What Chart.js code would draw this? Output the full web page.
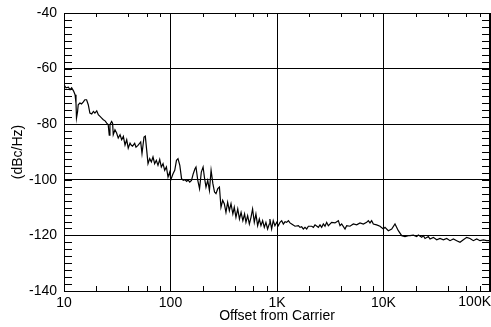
<!DOCTYPE html>
<html>
<head>
<meta charset="utf-8">
<script src="https://cdn.jsdelivr.net/npm/chart.js@4/dist/chart.umd.min.js"></script>
<style>
  body { margin: 0; background: #fff; }
  #wrap { width: 491px; height: 327px; }
</style>
</head>
<body>
<div id="wrap"><canvas id="pn" width="491" height="327"></canvas></div>
<script>
// offset frequency (Hz) and measured phase noise (dBc/Hz)
var freqHz = [
  10, 10.44, 11.0, 11.4, 11.8, 12.3, 12.7, 12.96, 13.1, 13.4, 13.6, 14.1, 14.6, 15.2, 15.7, 16.3, 16.9,
  17.5, 18.2, 18.9, 19.5, 20.3, 21.0, 21.8, 22.6, 23.4, 24.3, 25.2, 26.0, 26.6, 27.0, 28.0, 28.6, 29.0,
  30.1, 31.2, 32.3, 33.6, 34.8, 36.1, 37.4, 38.8, 40.1, 41.7, 42.9, 44.0, 46.1, 47.4, 49.5, 52.5, 54.0,
  56.4, 58.0, 59.8, 61.5, 63.8, 66.1, 68.5, 71.0, 73.6, 76.3, 79.2, 82.0, 85.1, 88.2, 91.5, 94.8, 98.4,
  100.7, 103.3, 105.6, 109.6, 113.8, 117.6, 122.3, 127.0, 131.8, 136.9, 141.9, 146.0, 151.6, 157.4,
  163.6, 169.8, 173.5, 180.4, 187.4, 194.7, 202.3, 208, 215.4, 223.7, 232, 240.5, 250, 259, 267.3, 278,
  288, 297.8, 309, 320, 331.7, 344, 357, 370, 385, 397, 411.7, 428, 444, 460, 478, 496, 511, 530, 550,
  570, 590, 612, 634, 658, 682, 707, 733, 760, 787, 816, 846, 858, 890, 922, 956, 994,
  1030, 1067, 1107, 1147, 1189, 1233, 1279, 1324, 1373, 1476, 1588, 1644, 1705, 1768, 1832, 1900, 1970,
  2118, 2195, 2274, 2445, 2534, 2627, 2724, 2823, 2927, 3034, 3259, 3504, 3766, 3904, 4047, 4350, 4510,
  4846, 5208, 5600, 6016, 6468, 6950, 7200, 7468, 7740, 8025, 8625, 9270, 9960,
  10330, 11100, 11940, 12820, 13780, 14820, 15920, 17120, 17740, 19070, 20500, 21240, 22840, 23680,
  24540, 26380, 27340, 29390, 31600, 33940, 36490, 39230, 42120, 45300, 48690, 52290, 56220, 60450,
  64910, 69790, 75010, 80580, 86640, 93150, 100000
];
var noiseDb = [
  -65.8, -66.9, -66.7, -67.6, -66.9, -68.1, -69.4, -72.4, -77.8, -75.6, -73.0, -72.4, -72.7, -72.0, -71.2, -71.2, -73.0,
  -76.0, -76.3, -75.4, -76.0, -75.2, -76.6, -77.2, -77.8, -78.4, -78.8, -79.6, -80.2, -83.9, -80.2, -79.0, -79.6, -83.8,
  -82.0, -83.2, -85.0, -83.8, -85.6, -84.4, -87.5, -85.6, -88.6, -86.8, -87.6, -87.9, -86.9, -88.3, -87.6, -86.4, -90.6,
  -84.6, -84.3, -89.4, -94.2, -92.4, -93.6, -91.8, -94.2, -93.0, -94.8, -92.7, -95.4, -94.2, -96.6, -95.4, -99.0, -97.2,
  -100.0, -98.8, -97.8, -96.6, -93.0, -92.4, -94.8, -99.6, -100.2, -100.0, -100.6, -100.0, -100.8, -100.2,
  -97.8, -96.0, -95.4, -100.2, -103.2, -97.2, -95.4, -99.0, -102.6, -100.2, -103.8, -96.6, -101.4, -104.4, -105.0, -103.2,
  -102.6, -109.9, -107.4, -108.6, -111.7, -108.1, -111.1, -108.6, -112.3, -109.9, -113.5, -110.5, -114.1, -111.7, -114.7, -112.3, -115.3, -112.9, -115.9,
  -113.5, -110.5, -115.3, -112.3, -116.5, -114.1, -116.5, -114.7, -117.1, -115.3, -117.7, -115.9, -114.1, -117.7, -114.7, -116.5, -115.3,
  -116.5, -115.3, -114.7, -115.9, -115.1, -115.3, -114.7, -115.5, -115.9, -116.7, -116.5, -117.1, -116.9, -117.7, -117.1, -117.7, -116.7,
  -116.7, -117.1, -116.2, -117.1, -116.2, -117.1, -115.9, -116.7, -115.3, -116.5, -115.3, -115.5, -114.7, -116.5, -115.9, -117.7, -116.5,
  -116.7, -115.9, -116.2, -115.5, -115.9, -115.3, -114.7, -115.5, -114.7, -115.9, -116.2, -116.7, -117.7,
  -117.1, -118.3, -117.7, -115.9, -118.3, -120.1, -120.4, -120.1, -120.1, -119.9, -120.4, -119.9, -120.7, -120.1,
  -121.1, -120.4, -121.3, -120.7, -121.6, -121.1, -121.6, -121.1, -121.9, -121.3, -121.9, -122.5, -121.6, -120.7,
  -121.1, -121.9, -121.3, -121.9, -121.6, -121.9, -121.9
];

var xDecades = [10, 100, 1000, 10000, 100000];
var xTickLabels = ['10', '100', '1K', '10K', '100K'];
var xMinorSteps = [2, 4, 6, 8];
var yMin = -140, yMax = -40, yStep = 20, yMinorStep = 2.5;

var fontFamily = "'Liberation Sans', Arial, sans-serif";

var points = freqHz.map(function (f, i) { return { x: f, y: noiseDb[i] }; });

// inner ticks on all four sides, closed frame, right-aligned last x label
var frameTicks = {
  id: 'frameTicks',
  afterDraw: function (chart) {
    var ctx = chart.ctx, a = chart.chartArea;
    var xs = chart.scales.x, ys = chart.scales.y;
    ctx.save();
    ctx.strokeStyle = '#000';
    ctx.lineWidth = 1;
    ctx.beginPath();
    for (var v = yMin; v <= yMax; v += yMinorStep) {
      var py = Math.round(ys.getPixelForValue(v)) + 0.5;
      ctx.moveTo(a.left, py); ctx.lineTo(a.left + 8, py);
      ctx.moveTo(a.right, py); ctx.lineTo(a.right - 8, py);
    }
    xDecades.slice(0, -1).forEach(function (d) {
      xMinorSteps.forEach(function (m) {
        var px = Math.round(xs.getPixelForValue(d * m)) + 0.5;
        ctx.moveTo(px, a.top); ctx.lineTo(px, a.top + 4);
        ctx.moveTo(px, a.bottom); ctx.lineTo(px, a.bottom - 5);
      });
    });
    ctx.stroke();
    ctx.strokeRect(Math.round(a.left) + 0.5, Math.round(a.top) + 0.5,
                   Math.round(a.right - a.left) - 1, Math.round(a.bottom - a.top));
    ctx.fillStyle = '#000';
    ctx.font = '14px ' + fontFamily;
    ctx.textAlign = 'right';
    ctx.textBaseline = 'top';
    ctx.fillText(xTickLabels[xTickLabels.length - 1], chart.width, a.bottom + 4);
    ctx.restore();
  }
};

new Chart(document.getElementById('pn'), {
  type: 'line',
  data: {
    datasets: [{
      data: points,
      borderColor: '#000',
      borderWidth: 1.2,
      pointRadius: 0,
      tension: 0,
      fill: false
    }]
  },
  options: {
    responsive: false,
    animation: false,
    events: [],
    layout: { padding: { top: 13, right: 1, left: 0, bottom: 0 } },
    plugins: { legend: { display: false }, tooltip: { enabled: false } },
    scales: {
      x: {
        type: 'logarithmic',
        min: 10,
        max: 100000,
        afterBuildTicks: function (scale) {
          scale.ticks = xDecades.map(function (v) { return { value: v }; });
        },
        afterFit: function (scale) {
          scale.height = 36;
          scale.paddingLeft = 0;
          scale.paddingRight = 0;
        },
        grid: { color: '#000', lineWidth: 1, drawTicks: false },
        border: { color: '#000', width: 1 },
        ticks: {
          color: '#000',
          padding: 4,
          maxRotation: 0,
          autoSkip: false,
          font: { family: fontFamily, size: 14 },
          callback: function (v) {
            var i = xDecades.indexOf(v);
            return i < xDecades.length - 1 ? xTickLabels[i] : '';
          }
        },
        title: {
          display: true,
          text: 'Offset from Carrier',
          color: '#000',
          font: { family: fontFamily, size: 14 },
          padding: { top: 0, bottom: 2 }
        }
      },
      y: {
        min: yMin,
        max: yMax,
        afterFit: function (scale) {
          scale.width = 64;
          scale.paddingTop = 0;
          scale.paddingBottom = 0;
        },
        grid: { color: '#000', lineWidth: 1, drawTicks: false },
        border: { color: '#000', width: 1 },
        ticks: {
          stepSize: yStep,
          color: '#000',
          padding: 7,
          font: { family: fontFamily, size: 14 }
        },
        title: {
          display: true,
          text: '(dBc/Hz)',
          color: '#000',
          font: { family: fontFamily, size: 14 },
          padding: { top: 10, bottom: 0 }
        }
      }
    }
  },
  plugins: [frameTicks]
});
</script>
</body>
</html>
